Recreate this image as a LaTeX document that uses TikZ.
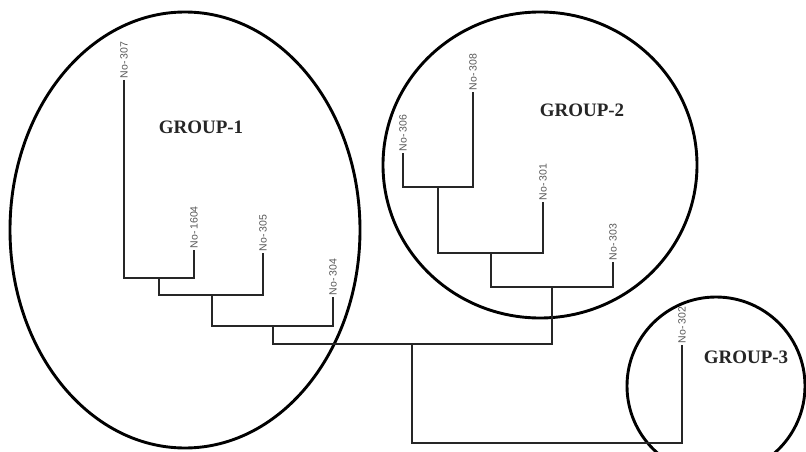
\documentclass[tikz,border=0pt]{standalone}
\usepackage{fontspec}
\setmainfont{Liberation Serif}
\newfontfamily\leaffont{Liberation Sans}
\begin{document}
\begin{tikzpicture}[x=1pt,y=-1pt,
  branch/.style={line width=1.5pt,black!85},
  grp/.style={line width=2.9pt,black},
  leaflbl/.style={rotate=90,anchor=west,inner sep=1.5pt,font=\leaffont\fontsize{10.5}{10.5}\selectfont,text=black!65},
  grplbl/.style={font=\bfseries\fontsize{19}{19}\selectfont,text=black!85}]
\useasboundingbox (0,0) rectangle (806,452);
\fill[white] (0,0) rectangle (806,452);

% leaf tips
\coordinate (t307) at (124,80);
\coordinate (t1604) at (194,250);
\coordinate (t305) at (263,253);
\coordinate (t304) at (333,297);
\coordinate (t306) at (403,153);
\coordinate (t308) at (473,92);
\coordinate (t301) at (543,202);
\coordinate (t303) at (613,262);
\coordinate (t302) at (682,345);

% internal junctions
\coordinate (j1) at (159,278);
\coordinate (j2) at (212,295);
\coordinate (j3) at (273,326);
\coordinate (j4) at (438,187);
\coordinate (j5) at (491,253);
\coordinate (j6) at (552,287);
\coordinate (j7) at (412,344);
\coordinate (b302) at (682,443);

% cluster outlines
\draw[grp] (185,230) ellipse [x radius=175, y radius=218];
\draw[grp] (540,165) ellipse [x radius=157, y radius=153];
\draw[grp] (716,386) ellipse [x radius=89, y radius=89];

% dendrogram
\draw[branch] (t307) |- (j1) -| (t1604);
\draw[branch] (j1) |- (j2) -| (t305);
\draw[branch] (j2) |- (j3) -| (t304);
\draw[branch] (t306) |- (j4) -| (t308);
\draw[branch] (j4) |- (j5) -| (t301);
\draw[branch] (j5) |- (j6) -| (t303);
\draw[branch] (j3) |- (j7) -| (j6);
\draw[branch] (j7) |- (b302) -- (t302);

% leaf labels
\node[leaflbl] (n307) at (t307) {No-\,307};
\node[leaflbl] (n1604) at (t1604) {No-\,1604};
\node[leaflbl] (n305) at (t305) {No-\,305};
\node[leaflbl] (n304) at (t304) {No-\,304};
\node[leaflbl] (n306) at (t306) {No-\,306};
\node[leaflbl] (n308) at (t308) {No-\,308};
\node[leaflbl] (n301) at (t301) {No-\,301};
\node[leaflbl] (n303) at (t303) {No-\,303};
\node[leaflbl] (n302) at (t302) {No-\,302};

% group labels
\node[grplbl] (g1) at (201,127) {GROUP-1};
\node[grplbl] (g2) at (582,110) {GROUP-2};
\node[grplbl] (g3) at (746,357) {GROUP-3};
\end{tikzpicture}
\end{document}
